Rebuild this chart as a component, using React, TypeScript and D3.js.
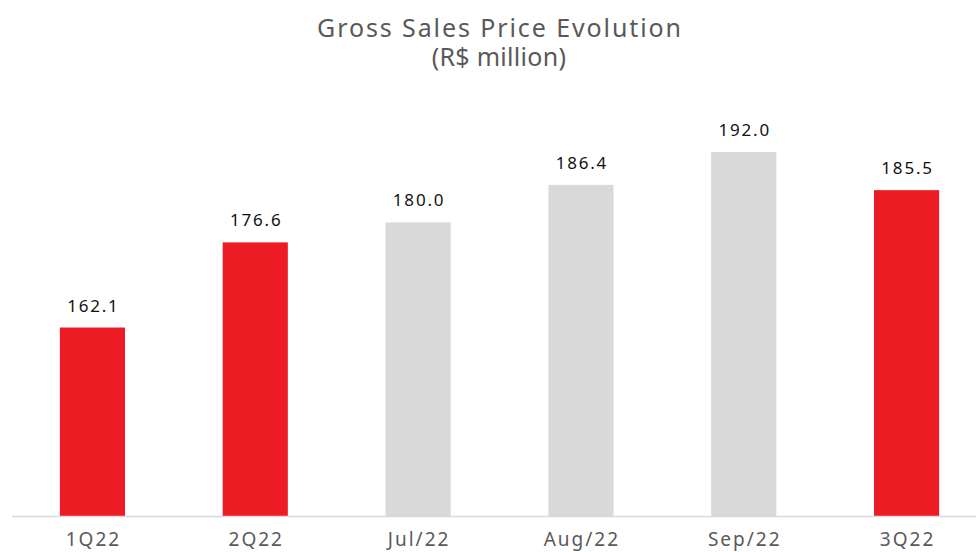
import React from "react";
import * as d3 from "d3";

const categories = ["1Q22", "2Q22", "Jul/22", "Aug/22", "Sep/22", "3Q22"];
const values = [162.1, 176.6, 180.0, 186.4, 192.0, 185.5];
const highlighted = [true, true, false, false, false, true];

const W = 976;
const H = 552;
const FONT = "'Noto Sans', sans-serif";

export default function App() {
  const x = d3.scaleBand<string>().domain(categories).range([11, 988]).paddingInner(0.6).paddingOuter(0.3);
  const y = d3.scaleLinear().domain([130, 200]).range([516, 105]);
  return (
    <svg width={W} height={H} style={{ position: "absolute", left: 0, top: 0, background: "#fff" }}>
      <text x={500} y={37} textAnchor="middle" fontFamily={FONT} fontSize={25} letterSpacing={1.9} fill="#595959">
        Gross Sales Price Evolution
      </text>
      <text x={499} y={66} textAnchor="middle" fontFamily={FONT} fontSize={25} letterSpacing={0.3} fill="#595959">
        (R$ million)
      </text>
      {categories.map((c, i) => (
        <g key={c}>
          <rect
            x={x(c)}
            y={y(values[i])}
            width={x.bandwidth()}
            height={y(130) - y(values[i])}
            fill={highlighted[i] ? "#ED1C24" : "#D9D9D9"}
          />
          <text
            x={(x(c) as number) + x.bandwidth() / 2 + 1}
            y={y(values[i]) - 16}
            textAnchor="middle"
            fontFamily={FONT}
            fontSize={17}
            letterSpacing={1.8}
            fill="#111"
          >
            {values[i].toFixed(1)}
          </text>
          <text
            x={(x(c) as number) + x.bandwidth() / 2 + 1}
            y={546}
            textAnchor="middle"
            fontFamily={FONT}
            fontSize={19}
            letterSpacing={2}
            fill="#595959"
          >
            {c}
          </text>
        </g>
      ))}
      <line x1={12} x2={W} y1={y(130) + 0.5} y2={y(130) + 0.5} stroke="#D9D9D9" strokeWidth={1.5} />
    </svg>
  );
}
